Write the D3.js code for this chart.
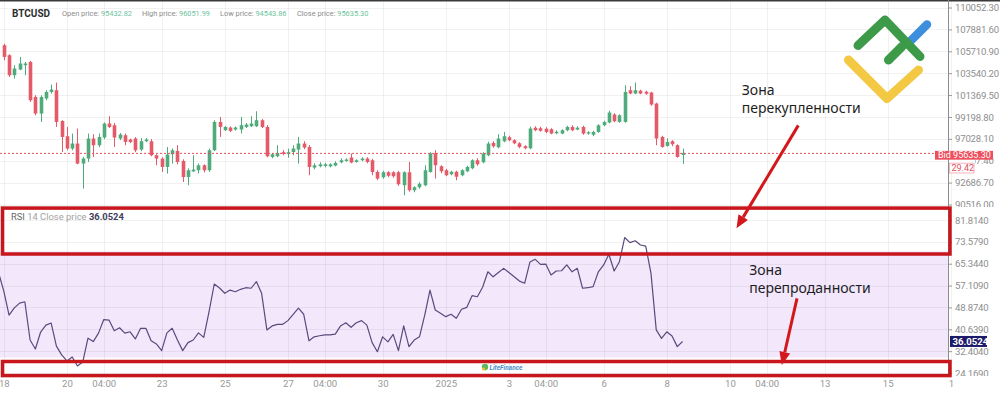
<!DOCTYPE html>
<html><head><meta charset="utf-8">
<script src="https://cdn.jsdelivr.net/npm/d3@7"></script>
<style>
html,body{margin:0;padding:0;background:#fff;overflow:hidden}
svg{display:block;font-family:Roboto,"Noto Sans",sans-serif}
</style></head><body>
<svg id="chart" width="1000" height="395"></svg>
<script>
// ---------- DATA ----------
const symbol = "BTCUSD";
const headerLabels = ["Open price:", "High price:", "Low price:", "Close price:"];
const headerValues = ["95432.82", "96051.99", "94543.86", "95635.30"];
const candleStart = "2024-12-18T00:00";
const candleStepHours = 4;
const opens = [106312,105320,103336,103901,104328,104655,101183,99537,101029,101679,101848,98802,97285,96064,96560,94576,95072,97057,96392,97160,98545,98376,97057,97384,96958,97057,95966,96789,96789,95400,95072,94239,95500,95827,94834,93247,93800,93912,94408,93912,95896,98703,97880,98148,97950,97950,98207,98276,98276,98872,98207,95232,95300,95700,95540,95724,95966,96560,96224,94176,94308,94340,94300,94375,94700,94834,95172,94735,94904,95073,94904,93743,93218,93714,93714,93714,92424,93714,91928,92226,92424,93743,95598,94309,93912,93515,93763,93416,93813,94110,94904,94706,95400,96620,96194,96789,97186,96888,96590,96293,96094,98128,98078,98029,97979,97583,97553,97880,98207,97950,98207,97553,97434,97712,98376,98644,99438,98703,98703,101848,101521,101798,101699,101620,100529,97215,96323,96789,96392,95432.82];
const highs = [106461,105419,104328,105152,104655,104755,101352,101352,101848,102413,102612,98872,98207,97554,98049,95232,97554,97483,97554,98650,99269,98600,97600,97554,97050,97200,97100,97100,97000,95500,95200,96224,96064,96400,95000,94100,95400,94576,94500,96064,98872,99200,98300,98250,98250,99200,98600,99269,99765,99000,98400,95600,96400,95900,96050,96400,97215,96789,96400,94600,94700,94650,94600,94800,95100,95100,95568,95003,95202,95202,95053,93912,93862,93813,93813,93862,93813,94735,92325,92722,94408,95698,95896,94408,94061,93862,93862,94011,94358,95003,95102,95698,96739,96789,97483,97712,97334,96987,96690,96392,98227,98277,98227,98178,98078,97880,97979,98326,98376,98277,98326,97781,97831,98475,98822,99814,99566,99467,102344,102245,102612,101898,101798,101699,100608,97334,97086,96888,96491,96051.99];
const lows = [104824,103167,103009,103832,103336,100688,99368,98703,100856,101521,98207,95728,95896,95896,94500,92097,94735,95232,96200,97000,98100,96224,96900,96392,96600,95700,95800,96700,95300,94408,93744,93584,94576,94500,92750,92424,93744,93584,93700,93744,95827,97215,97800,97700,97850,97554,98100,98200,98200,98100,95200,95100,95200,95400,95150,95400,94576,96000,93416,94000,94200,94200,94200,94300,94600,94755,94606,94656,94805,94606,93416,92920,93069,93218,93168,92374,91432,91779,91730,92077,92325,93664,93089,93614,93317,93416,92920,93317,93714,94011,94358,94606,95301,96144,96094,96690,96789,96491,96094,95995,95995,97781,97731,97582,97483,97483,97483,97781,97781,97880,97434,97434,97285,97632,98277,98574,98674,98624,98624,101451,101451,101451,101402,100310,96392,96144,96243,96293,95152,94543.86];
const closes = [105151,103336,104001,104497,104497,100856,99537,101183,101679,101918,98703,97215,96064,96560,94576,95072,97057,96392,97215,98545,98207,97156,97454,96720,96720,95896,96789,96958,95400,95072,94239,95469,95896,94735,93247,93912,93980,94408,93912,95896,98703,98207,98207,97812,98148,98376,98446,98545,98872,98207,95300,95500,95630,95540,95700,96064,96560,96164,94239,94408,94500,94500,94500,94636,94904,94973,94676,94904,95073,94735,93743,93089,93714,93366,93317,92523,93714,91928,92226,92573,93912,95598,94408,93813,93416,93763,93267,93912,94239,94904,94507,95569,96561,96293,97057,97285,96888,96590,96223,96094,98049,97880,97830,97712,97553,97731,97880,98207,97880,98128,97553,97682,97712,98376,98703,99636,98773,99368,101679,101521,101848,101521,101500,100430,97057,96223,96720,96491,95231,95635.30];
const rsiStart = "2024-12-17T20:00";
const rsiValues = [62,55.0,46.0,48.7,50.5,51.0,36.6,33.2,39.6,42.2,
 43.0,34.3,31.0,28.7,30.2,26.8,28.3,37.3,36.0,39.2,
 44.3,44.1,40.1,41.2,39.2,39.7,37.0,41.0,41.0,36.3,
 35.1,32.6,39.3,41.0,36.6,32.6,35.6,36.6,39.3,37.6,
 47.2,57.7,56.2,54.2,55.4,54.8,55.7,56.3,56.1,58.6,
 54.2,40.4,41.9,42.5,42.5,43.9,46.3,48.6,46.3,36.3,
 37.8,38.2,38.5,38.5,38.8,41.9,43.1,41.4,43.1,43.9,
 42.2,35.6,32.2,37.8,35.9,38.7,32.6,41.9,34.1,36.6,
 37.8,46.0,55.4,47.9,46.7,45.4,46.3,44.8,48.2,48.9,
 53.3,52.9,56.5,62.3,60.4,62.0,63.6,62.0,60.4,58.8,
 58.0,66.0,67.0,65.1,65.2,61.1,62.6,62.7,64.9,62.3,
 63.6,56.1,56.3,56.7,62.3,64.9,68.9,62.6,66.1,75.2,
 73.3,74.0,72.4,72.0,61.7,40.4,37.2,39.7,38.1,34.1,
 36.0524];
const priceTicks = [110052.30,107881.60,105710.90,103540.20,101369.50,99198.80,97028.10,94857.40,92686.70,90516.00];
const rsiTicks = [81.8140,73.5790,65.3440,57.1090,48.8740,40.6390,32.4040,24.1690];
const xTickTimes = ["2024-12-18T00:00","2024-12-20T00:00","2024-12-21T04:00","2024-12-23T00:00","2024-12-25T00:00","2024-12-27T00:00","2024-12-28T04:00","2024-12-30T00:00","2025-01-01T00:00","2025-01-03T00:00","2025-01-04T04:00","2025-01-06T00:00","2025-01-08T00:00","2025-01-10T00:00","2025-01-11T04:00","2025-01-13T00:00","2025-01-15T00:00","2025-01-17T00:00"];
const xTickLabels = ["18","20","04:00","23","25","27","04:00","30","2025","3","04:00","6","8","10","04:00","13","15","1"];
const bidPrice = 95635.30;
const bidLabel = "Bid 95635.30";
const timerLabel = "29.42";
const rsiLast = 36.0524;
const rsiUpper = 70, rsiLower = 30;
const rsiTitle = ["RSI", " 14 Close price ", "36.0524"];
const zoneTexts = [["Зона", "перекупленности"], ["Зона", "перепроданности"]];

// ---------- SETUP ----------
const W = 1000, H = 395, axisX = 948, paneSplit = 207, plotBottom = 376;
const parse = d3.utcParse("%Y-%m-%dT%H:%M");
const svg = d3.select("#chart");
const x = d3.scaleUtc().domain([parse("2024-12-18T00:00"), parse("2025-01-17T00:00")]).range([3.8, 3.8 + 30 * 31.57]);
const yP = d3.scaleLinear().domain([90516.00, 110052.30]).range([204.5, 7.5]);
const yR = d3.scaleLinear().domain([24.169, 81.814]).range([373, 220]);

const t0 = parse(candleStart);
const candles = opens.map((o, i) => ({t: d3.utcHour.offset(t0, i * candleStepHours), o, h: highs[i], l: lows[i], c: closes[i]}));
const r0 = parse(rsiStart);
const rsi = rsiValues.map((v, i) => ({t: d3.utcHour.offset(r0, i * candleStepHours), v}));
const xt = xTickTimes.map(parse);

const defs = svg.append("defs");
defs.append("clipPath").attr("id", "cpPrice").append("rect").attr("x", 0).attr("y", 0).attr("width", axisX).attr("height", paneSplit);
defs.append("clipPath").attr("id", "cpRsi").append("rect").attr("x", 0).attr("y", paneSplit).attr("width", axisX).attr("height", plotBottom - paneSplit);
// clip rects for translated axis groups are in the group's local coordinates
defs.append("clipPath").attr("id", "cpPriceAx").append("rect").attr("x", 0).attr("y", 0).attr("width", 60).attr("height", paneSplit);
defs.append("clipPath").attr("id", "cpRsiAx").append("rect").attr("x", 0).attr("y", paneSplit - 1).attr("width", 60).attr("height", plotBottom - paneSplit + 1);
defs.append("clipPath").attr("id", "cpX").append("rect").attr("x", 0).attr("y", 0).attr("width", 953).attr("height", 20);

svg.append("rect").attr("width", W).attr("height", H).attr("fill", "#fff");

// RSI zone band
svg.append("rect").attr("x", 0).attr("width", axisX)
  .attr("y", yR(rsiUpper)).attr("height", yR(rsiLower) - yR(rsiUpper)).attr("fill", "#f3e7fc");

// grid
const grid = svg.append("g").attr("stroke", "#000").attr("stroke-opacity", 0.055).attr("stroke-width", 1);
grid.selectAll(".vg").data(xt).join("line")
  .attr("x1", d => Math.round(x(d)) + 0.5).attr("x2", d => Math.round(x(d)) + 0.5)
  .attr("y1", 0).attr("y2", plotBottom);
grid.selectAll(".hg").data(priceTicks).join("line")
  .attr("x1", 0).attr("x2", axisX).attr("y1", d => Math.round(yP(d)) + 0.5).attr("y2", d => Math.round(yP(d)) + 0.5)
  .attr("clip-path", "url(#cpPrice)");
grid.selectAll(".rg").data(rsiTicks).join("line")
  .attr("x1", 0).attr("x2", axisX).attr("y1", d => Math.round(yR(d)) + 0.5).attr("y2", d => Math.round(yR(d)) + 0.5);

// top border
svg.append("rect").attr("x", 0).attr("y", 0).attr("width", W).attr("height", 1.5).attr("fill", "#3a3a3a");

// logo (decorative)
const logo = svg.append("g").attr("fill", "none").attr("stroke-linecap", "round").attr("stroke-linejoin", "round");
logo.append("path").attr("d", "M848.5,60 L887,98.5 L918.5,70").attr("stroke", "#f3c843").attr("stroke-width", 9);
logo.append("path").attr("d", "M910,41.5 L927,24.5").attr("stroke", "#3d8fde").attr("stroke-width", 8.5);
logo.append("path").attr("d", "M858,45.5 L885,20 L920,56.5").attr("stroke", "#3c9a48").attr("stroke-width", 9);
logo.append("path").attr("d", "M888.5,60 L902,46.5").attr("stroke", "#3c9a48").attr("stroke-width", 9);

// candles
const upC = "#4fab7c", dnC = "#e45a69";
const cg = svg.append("g").attr("clip-path", "url(#cpPrice)");
const cw = 3.6;
cg.selectAll(".wick").data(candles).join("line")
  .attr("x1", d => Math.round(x(d.t)) + 0.5).attr("x2", d => Math.round(x(d.t)) + 0.5)
  .attr("y1", d => yP(d.h)).attr("y2", d => yP(d.l))
  .attr("stroke", d => d.c >= d.o ? upC : dnC).attr("stroke-width", 1);
cg.selectAll(".body").data(candles).join("rect")
  .attr("x", d => Math.round(x(d.t)) + 0.5 - cw / 2)
  .attr("width", cw)
  .attr("y", d => yP(Math.max(d.o, d.c)))
  .attr("height", d => Math.max(1, Math.abs(yP(d.o) - yP(d.c))))
  .attr("fill", d => d.c >= d.o ? upC : dnC);

// bid dashed line
svg.append("line").attr("x1", 0).attr("x2", 935).attr("y1", yP(bidPrice) + 0.5).attr("y2", yP(bidPrice) + 0.5)
  .attr("stroke", "#e4505e").attr("stroke-width", 1).attr("stroke-dasharray", "2,2");

// RSI line
svg.append("path").datum(rsi).attr("clip-path", "url(#cpRsi)")
  .attr("fill", "none").attr("stroke", "#5a4a7c").attr("stroke-width", 1.2).attr("stroke-linejoin", "round")
  .attr("d", d3.line().x(d => x(d.t)).y(d => yR(d.v)));

// header
svg.append("text").attr("x", 12).attr("y", 16.5).attr("font-size", 10).attr("font-weight", 700).attr("fill", "#2e2e2e").text(symbol);
const hx = [62, 142, 220, 297];
headerLabels.forEach((lab, i) => {
  const t = svg.append("text").attr("x", hx[i]).attr("y", 16).attr("font-size", 7.4);
  t.append("tspan").attr("fill", "#8b8b8b").text(lab + " ");
  t.append("tspan").attr("fill", "#6cc39c").text(headerValues[i]);
});

// RSI title
const rt = svg.append("text").attr("x", 11).attr("y", 219.5).attr("font-size", 9.4);
rt.append("tspan").attr("fill", "#666").text(rsiTitle[0]);
rt.append("tspan").attr("fill", "#a2a2a2").text(rsiTitle[1]);
rt.append("tspan").attr("fill", "#3e3e5e").attr("font-weight", 700).text(rsiTitle[2]);

// right axes
function styleAxis(g) {
  g.select(".domain").remove();
  g.selectAll(".tick line").attr("stroke", "#9a9a9a");
  g.selectAll(".tick text").attr("fill", "#8e8e8e").attr("font-size", 9.6).attr("font-family", "Roboto, sans-serif").attr("letter-spacing", "-0.2px");
}
svg.append("g").attr("transform", `translate(${axisX},0)`).attr("clip-path", "url(#cpPriceAx)")
  .call(d3.axisRight(yP).tickValues(priceTicks).tickFormat(d => d.toFixed(2)).tickSize(4).tickPadding(3))
  .call(styleAxis);
svg.append("g").attr("transform", `translate(${axisX},0)`).attr("clip-path", "url(#cpRsiAx)")
  .call(d3.axisRight(yR).tickValues(rsiTicks).tickFormat(d => d.toFixed(4)).tickSize(4).tickPadding(3))
  .call(styleAxis);
svg.append("line").attr("x1", axisX + 0.5).attr("x2", axisX + 0.5).attr("y1", 0).attr("y2", plotBottom).attr("stroke", "#8c8c8c");

// x axis
const xa = svg.append("g").attr("transform", `translate(0,${plotBottom})`).attr("clip-path", "url(#cpX)")
  .call(d3.axisBottom(x).tickValues(xt).tickFormat((d, i) => xTickLabels[i]).tickSize(0).tickPadding(4));
xa.select(".domain").remove();
xa.selectAll(".tick text").attr("fill", "#999").attr("font-size", 9.6).attr("font-family", "Roboto, sans-serif");

// bid label (covers the price tick label behind it, as in the platform)
const by = yP(bidPrice);
svg.append("rect").attr("x", 949).attr("y", by + 6).attr("width", 26).attr("height", 14).attr("fill", "#fff");
svg.append("rect").attr("x", 935).attr("y", by - 2).attr("width", 58).attr("height", 8.8).attr("fill", "#ee4f5d");
svg.append("text").attr("x", 938).attr("y", by + 5.2).attr("font-size", 9).attr("fill", "#fff").text(bidLabel);
svg.append("rect").attr("x", 949.5).attr("y", by + 10.3).attr("width", 24.5).attr("height", 9.8).attr("fill", "#fff").attr("stroke", "#f2a0a8").attr("stroke-width", 0.8);
svg.append("text").attr("x", 951.5).attr("y", by + 18.2).attr("font-size", 9).attr("fill", "#e0505e").text(timerLabel);

// RSI last value label
const ry = yR(rsiLast);
svg.append("rect").attr("x", 950).attr("y", ry - 5.5).attr("width", 37).attr("height", 11).attr("fill", "#1e1a6a");
svg.append("text").attr("x", 952.5).attr("y", ry + 3.5).attr("font-size", 9.6).attr("font-weight", 700).attr("fill", "#fff").text(rsiLast.toFixed(4));

// small watermark
const wm = svg.append("g");
wm.append("circle").attr("cx", 485).attr("cy", 367).attr("r", 3.2).attr("fill", "#5cb85c");
wm.append("circle").attr("cx", 483.5).attr("cy", 369).attr("r", 1.6).attr("fill", "#f0c040");
wm.append("text").attr("x", 489.5).attr("y", 369.5).attr("font-size", 6.5).attr("font-style", "italic").attr("font-weight", 700).attr("fill", "#4a8fc8").text("LiteFinance");

// red annotation boxes
const boxC = "#c8161d";
svg.append("rect").attr("x", 2.5).attr("y", yR(86.3)).attr("width", 947.5).attr("height", yR(69.0) - yR(86.3))
  .attr("fill", "none").attr("stroke", boxC).attr("stroke-width", 3.5);
svg.append("rect").attr("x", 2.5).attr("y", yR(28.5)).attr("width", 947.5).attr("height", yR(23.2) - yR(28.5))
  .attr("fill", "none").attr("stroke", boxC).attr("stroke-width", 3.5);

// arrows
function arrow(x1, y1, x2, y2) {
  const ang = Math.atan2(y2 - y1, x2 - x1), L = 13, Wd = 5.5;
  const bx = x2 - L * Math.cos(ang), byy = y2 - L * Math.sin(ang);
  svg.append("line").attr("x1", x1).attr("y1", y1).attr("x2", bx).attr("y2", byy).attr("stroke", "#d3181c").attr("stroke-width", 3);
  const px = -Math.sin(ang) * Wd, py = Math.cos(ang) * Wd;
  svg.append("polygon").attr("points", `${x2},${y2} ${bx + px},${byy + py} ${bx - px},${byy - py}`).attr("fill", "#d3181c");
}
arrow(x(parse("2025-01-12T04:00")), yP(98362), x(parse("2025-01-10T05:00")), yR(78.7));
arrow(x(parse("2025-01-12T03:00")), yR(52.3), x(parse("2025-01-11T15:30")), yR(27.2));

// zone texts
const zt = svg.append("g").attr("font-family", "'Noto Sans', 'Open Sans', sans-serif").attr("font-size", 14).attr("fill", "#1e1e1e");
zt.append("text").attr("x", x(parse("2025-01-10T09:00"))).attr("y", yP(101342)).text(zoneTexts[0][0]);
zt.append("text").attr("x", x(parse("2025-01-10T09:00"))).attr("y", yP(99554)).text(zoneTexts[0][1]);
zt.append("text").attr("x", x(parse("2025-01-10T14:40"))).attr("y", yR(61.1)).text(zoneTexts[1][0]);
zt.append("text").attr("x", x(parse("2025-01-10T14:40"))).attr("y", yR(54.2)).text(zoneTexts[1][1]);
</script>
</body></html>
